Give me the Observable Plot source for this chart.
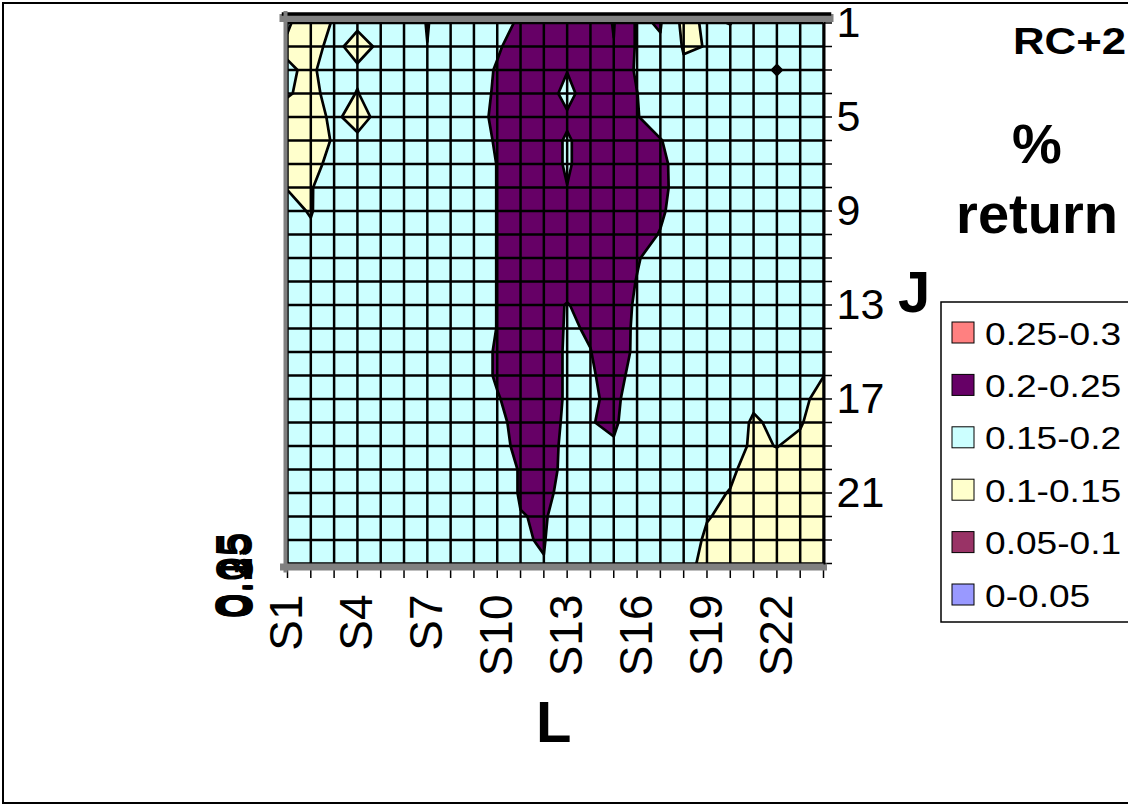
<!DOCTYPE html>
<html>
<head>
<meta charset="utf-8">
<script src="https://cdn.jsdelivr.net/npm/d3@7"></script>
<script src="https://cdn.jsdelivr.net/npm/@observablehq/plot@0.6"></script>
<style>
  html, body { margin: 0; padding: 0; background: #fff; }
  #wrap { position: relative; width: 1128px; height: 807px; overflow: hidden; background: #fff; }
  #wrap svg { position: absolute; left: 0; top: 0; }
</style>
</head>
<body>
<div id="wrap"></div>
<script>
// ---------- data ----------
const cols = ["S1","S2","S3","S4","S5","S6","S7","S8","S9","S10","S11","S12","S13","S14","S15","S16","S17","S18","S19","S20","S21","S22","S23","S24"];
const rowsJ = [1,2,3,4,5,6,7,8,9,10,11,12,13,14,15,16,17,18,19,20,21,22,23,24];
const xTickLabels = ["S1","S4","S7","S10","S13","S16","S19","S22"];
const yTickLabels = [1,5,9,13,17,21];

// % return per row J (one value per column S1..S24)
const J1  = [0.153,0.135,0.1526,0.155,0.165,0.175,0.202,0.175,0.18,0.183,0.207,0.22,0.22,0.225,0.252,0.1942,0.203,0.138,0.156,0.149,0.17,0.175,0.175,0.175];
const J2  = [0.146,0.142,0.157,0.14,0.155,0.172,0.1995,0.172,0.18,0.196,0.215,0.22,0.215,0.225,0.2487,0.1946,0.1955,0.146,0.151,0.165,0.175,0.18,0.178,0.175];
const J3  = [0.153,0.146,0.162,0.154,0.168,0.175,0.18,0.178,0.185,0.203,0.216,0.222,0.2014,0.222,0.23,0.1947,0.18,0.158,0.165,0.172,0.18,0.205,0.18,0.176];
const J4  = [0.152,0.143,0.16,0.149,0.165,0.172,0.175,0.176,0.18,0.207,0.22,0.22,0.1877,0.222,0.225,0.2005,0.18,0.172,0.172,0.175,0.178,0.18,0.178,0.176];
const J5  = [0.14,0.14,0.155,0.14,0.158,0.17,0.175,0.177,0.18,0.212,0.222,0.222,0.2053,0.222,0.225,0.202,0.18,0.175,0.175,0.176,0.178,0.18,0.178,0.175];
const J6  = [0.135,0.135,0.153,0.1554,0.17,0.175,0.176,0.178,0.18,0.205,0.22,0.214,0.1965,0.214,0.222,0.215,0.202,0.178,0.175,0.176,0.178,0.178,0.177,0.175];
const J7  = [0.14,0.14,0.16,0.168,0.172,0.175,0.176,0.177,0.178,0.201,0.22,0.214,0.1965,0.214,0.225,0.222,0.21,0.18,0.176,0.175,0.177,0.178,0.176,0.175];
const J8  = [0.149,0.148,0.168,0.17,0.173,0.175,0.176,0.177,0.178,0.201,0.222,0.22,0.2005,0.22,0.226,0.224,0.211,0.18,0.176,0.175,0.176,0.177,0.176,0.175];
const J9  = [0.158,0.148,0.17,0.172,0.174,0.175,0.176,0.177,0.178,0.201,0.222,0.225,0.215,0.225,0.226,0.222,0.206,0.179,0.176,0.175,0.176,0.176,0.176,0.175];
const J10 = [0.165,0.155,0.168,0.172,0.174,0.175,0.176,0.177,0.178,0.201,0.222,0.225,0.218,0.224,0.222,0.215,0.198,0.178,0.176,0.175,0.176,0.176,0.175,0.175];
const J11 = [0.168,0.165,0.17,0.173,0.174,0.175,0.176,0.177,0.178,0.201,0.222,0.224,0.22,0.223,0.22,0.203,0.183,0.177,0.176,0.175,0.175,0.176,0.175,0.174];
const J12 = [0.17,0.17,0.172,0.173,0.174,0.175,0.176,0.177,0.178,0.201,0.222,0.224,0.218,0.222,0.22,0.1985,0.18,0.177,0.176,0.175,0.175,0.175,0.175,0.174];
const J13 = [0.17,0.171,0.172,0.173,0.174,0.175,0.176,0.177,0.178,0.201,0.22,0.215,0.198,0.215,0.215,0.196,0.18,0.177,0.176,0.175,0.175,0.175,0.174,0.172];
const J14 = [0.171,0.171,0.172,0.173,0.174,0.175,0.176,0.177,0.178,0.201,0.22,0.2158,0.197,0.2023,0.213,0.195,0.18,0.177,0.176,0.175,0.175,0.174,0.172,0.168];
const J15 = [0.171,0.172,0.172,0.173,0.174,0.175,0.176,0.177,0.18,0.205,0.222,0.22,0.195,0.1995,0.212,0.195,0.18,0.177,0.176,0.175,0.174,0.172,0.168,0.16];
const J16 = [0.171,0.172,0.173,0.173,0.174,0.175,0.176,0.177,0.18,0.205,0.222,0.22,0.195,0.197,0.21,0.19,0.178,0.177,0.176,0.174,0.165,0.165,0.162,0.1505];
const J17 = [0.172,0.172,0.173,0.174,0.174,0.175,0.176,0.177,0.18,0.197,0.218,0.228,0.193,0.196,0.206,0.186,0.178,0.177,0.175,0.17,0.1575,0.162,0.157,0.14];
const J18 = [0.172,0.172,0.173,0.174,0.175,0.175,0.176,0.177,0.178,0.19,0.213,0.2257,0.19,0.199,0.204,0.184,0.178,0.176,0.175,0.17,0.145,0.158,0.152,0.137];
const J19 = [0.172,0.173,0.173,0.174,0.175,0.175,0.176,0.177,0.178,0.185,0.2113,0.2255,0.185,0.19,0.1973,0.182,0.178,0.176,0.17,0.158,0.1469,0.1505,0.145,0.135];
const J20 = [0.172,0.173,0.174,0.174,0.175,0.175,0.176,0.177,0.178,0.18,0.203,0.2216,0.185,0.182,0.18,0.178,0.176,0.175,0.165,0.1524,0.1444,0.143,0.14,0.132];
const J21 = [0.172,0.173,0.174,0.174,0.175,0.175,0.176,0.177,0.178,0.18,0.203,0.2109,0.185,0.182,0.18,0.178,0.176,0.172,0.153,0.1494,0.14,0.14,0.135,0.13];
const J22 = [0.172,0.173,0.174,0.175,0.175,0.175,0.176,0.177,0.178,0.178,0.1988,0.2029,0.185,0.182,0.18,0.178,0.175,0.168,0.151,0.146,0.135,0.135,0.132,0.13];
const J23 = [0.172,0.173,0.174,0.175,0.175,0.176,0.176,0.177,0.178,0.178,0.1986,0.2011,0.185,0.182,0.18,0.177,0.172,0.16,0.147,0.14,0.135,0.133,0.13,0.128];
const J24 = [0.172,0.173,0.174,0.175,0.175,0.176,0.176,0.177,0.178,0.178,0.19,0.1993,0.185,0.182,0.18,0.177,0.17,0.156,0.145,0.14,0.135,0.133,0.13,0.128];

// contour bands
const thresholds = [0, 0.05, 0.1, 0.15, 0.2, 0.25, 0.3];
const bandBreaks = [0.05, 0.1, 0.15, 0.2, 0.25];
const bandColors = ["#9999FF", "#993366", "#FFFFCC", "#CCFFFF", "#660066", "#FF8080"];
const legendLabels = ["0.25-0.3", "0.2-0.25", "0.15-0.2", "0.1-0.15", "0.05-0.1", "0-0.05"];
const legendColors = ["#FF8080", "#660066", "#CCFFFF", "#FFFFCC", "#993366", "#9999FF"];
const seriesAxisLabels = ["0", "0.05", "0.1", "0.15", "0.2", "0.25", "0.3"];

// ---------- build ----------
const grid = [J1,J2,J3,J4,J5,J6,J7,J8,J9,J10,J11,J12,J13,J14,J15,J16,J17,J18,J19,J20,J21,J22,J23,J24];
const values = grid.flat();
const nx = cols.length, ny = grid.length;
const colIdx = cols.map((_, i) => i + 1);
const FONT = "'Liberation Sans', Arial, Helvetica, sans-serif";

const chart = Plot.plot({
  width: 1128,
  height: 807,
  marginLeft: 287,
  marginRight: 305,
  marginTop: 22.5,
  marginBottom: 244,
  style: { fontFamily: FONT, background: "transparent", overflow: "visible", color: "#000" },
  x: { domain: [1, nx], axis: null },
  y: { domain: [ny, 1], axis: null },
  color: { type: "threshold", domain: bandBreaks, range: bandColors },
  marks: [
    Plot.contour(values, {
      width: nx, height: ny,
      x1: 0.5, x2: nx + 0.5, y1: 0.5, y2: ny + 0.5,
      thresholds,
      fill: Plot.identity,
      stroke: "#000",
      strokeWidth: 2.7,
      strokeLinejoin: "round",
      clip: true
    }),
    Plot.gridX(colIdx, { stroke: "#000", strokeOpacity: 1, strokeWidth: 2.5 }),
    Plot.gridY(rowsJ, { stroke: "#000", strokeOpacity: 1, strokeWidth: 2.5 }),
    Plot.axisX(colIdx, {
      anchor: "bottom",
      tickSize: 15,
      tickPadding: 16,
      tickRotate: -90,
      fontSize: 46,
      tickFormat: d => xTickLabels.includes(cols[d - 1]) ? cols[d - 1] : "",
      strokeWidth: 1.5,
      label: null
    }),
    Plot.axisY(rowsJ, {
      anchor: "right",
      tickSize: 8,
      tickPadding: 5,
      fontSize: 43,
      tickFormat: d => yTickLabels.includes(d) ? String(d) : "",
      strokeWidth: 1.5,
      label: null
    }),
    // 3D-style walls of the Excel surface
    Plot.frame({ anchor: "top", stroke: "#808080", strokeWidth: 8, dy: -5, insetLeft: -4, insetRight: -6 }),
    Plot.frame({ anchor: "top", stroke: "#000", strokeWidth: 3.5, dy: -9, insetLeft: -4, insetRight: -6 }),
    Plot.frame({ anchor: "bottom", stroke: "#808080", strokeWidth: 7, dy: 3.5, insetLeft: -4 }),
    Plot.frame({ anchor: "left", stroke: "#808080", strokeWidth: 4, dx: -2, insetTop: -10, insetBottom: -7 }),
    Plot.frame({ anchor: "right", stroke: "#000", strokeWidth: 2, dx: 1 })
  ]
});
document.getElementById("wrap").appendChild(chart);

// ---------- overlay: titles, legend, border ----------
const ov = d3.select("#wrap").append("svg")
  .attr("width", 1128).attr("height", 807)
  .style("font-family", FONT);

ov.append("rect").attr("x", 3).attr("y", 3).attr("width", 1140).attr("height", 800)
  .attr("fill", "none").attr("stroke", "#000").attr("stroke-width", 2);

ov.append("text").attr("x", 1013).attr("y", 54).attr("font-size", 37).attr("font-weight", "bold")
  .attr("textLength", 113).attr("lengthAdjust", "spacingAndGlyphs").text("RC+2");
ov.append("text").attr("x", 1037).attr("y", 163).attr("font-size", 56).attr("font-weight", "bold").attr("text-anchor", "middle").text("%");
ov.append("text").attr("x", 1037).attr("y", 233).attr("font-size", 56).attr("font-weight", "bold").attr("text-anchor", "middle").text("return");
ov.append("text").attr("x", 898).attr("y", 312).attr("font-size", 58).attr("font-weight", "bold").text("J");
ov.append("text").attr("x", 536).attr("y", 742).attr("font-size", 58).attr("font-weight", "bold").text("L");

// overlapping series-axis labels (as in the original)
ov.append("g").selectAll("text").data(seriesAxisLabels).join("text")
  .attr("transform", (d, i) => `translate(${246 + i * 1.2},618) rotate(-90)`)
  .attr("font-size", 44)
  .attr("text-anchor", "start")
  .text(d => d);

// legend
const lg = ov.append("g");
lg.append("rect").attr("x", 941).attr("y", 302).attr("width", 220).attr("height", 320)
  .attr("fill", "#fff").attr("stroke", "#000").attr("stroke-width", 1.5);
const rowH = 52.4, firstC = 333;
lg.selectAll("rect.sw").data(legendColors).join("rect").attr("class", "sw")
  .attr("x", 952).attr("y", (d, i) => firstC + i * rowH - 11)
  .attr("width", 22).attr("height", 21)
  .attr("fill", d => d).attr("stroke", "#000").attr("stroke-width", 1);
lg.selectAll("text").data(legendLabels).join("text")
  .attr("transform", (d, i) => `translate(985,${firstC + i * rowH + 11.5}) scale(1.16,1)`)
  .attr("font-size", 32)
  .text(d => d);
</script>
</body>
</html>
